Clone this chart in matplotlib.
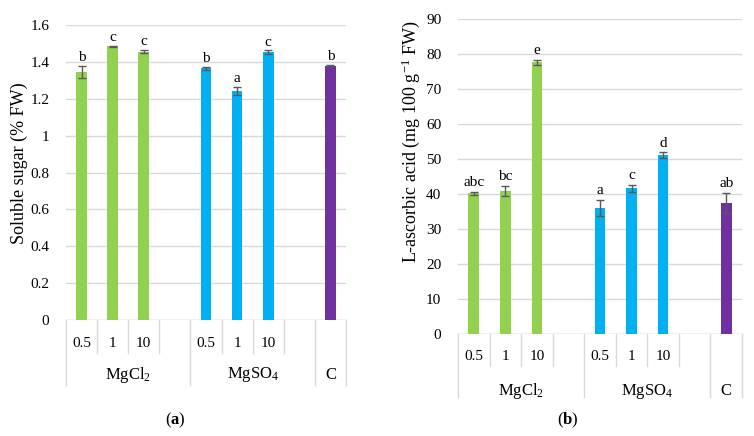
import matplotlib
matplotlib.use("Agg")
import matplotlib.pyplot as plt
from matplotlib.transforms import blended_transform_factory

plt.rcParams["font.family"] = "Liberation Serif"
plt.rcParams["mathtext.fontset"] = "custom"
plt.rcParams["mathtext.rm"] = "Liberation Serif"
plt.rcParams["mathtext.it"] = "Liberation Serif:italic"
plt.rcParams["mathtext.bf"] = "Liberation Serif:bold"

# slots: 0.5 1 10 (MgCl2) | gap | 0.5 1 10 (MgSO4) | gap | C
SUB_LABELS = ["0.5", "1", "10", "", "0.5", "1", "10", "", ""]
GROUPS = ["MgCl$_2$", "MgSO$_4$", "C"]
GROUP_SPAN = [(0, 4), (4, 8), (8, 9)]
BAR_POS = [0, 1, 2, 4, 5, 6, 8]
BAR_COLORS = ["#92D050"] * 3 + ["#00B0F0"] * 3 + ["#7030A0"]

sugar = [1.345, 1.485, 1.455, 1.365, 1.242, 1.452, 1.379]
sugar_err = [0.032, 0.003, 0.008, 0.007, 0.02, 0.01, 0.004]
sugar_let = ["b", "c", "c", "b", "a", "c", "b"]

asc = [40.2, 40.9, 77.6, 35.9, 41.6, 51.1, 37.5]
asc_err = [0.5, 1.5, 0.7, 2.3, 1.0, 0.8, 2.8]
asc_let = ["abc", "bc", "e", "a", "c", "d", "ab"]

W, H = 754, 436
fig = plt.figure(figsize=(W / 100, H / 100), dpi=100)


def px_axes(x0, y0, x1, y1):
    return fig.add_axes([x0 / W, (H - y1) / H, (x1 - x0) / W, (y1 - y0) / H])


def panel(ax, vals, errs, lets, ymax, step, ylabel, off, sub_y, grp_y,
          inner_d, grp_d, lab_xy, tick_fmt):
    ax.bar(BAR_POS, vals, width=0.34, color=BAR_COLORS, zorder=3)
    ax.errorbar(BAR_POS, vals, yerr=errs, fmt="none", ecolor="#595959",
                elinewidth=1, capsize=3, capthick=1, zorder=4)
    for x, v, e, l in zip(BAR_POS, vals, errs, lets):
        ax.text(x, v + e + off, l, ha="center", va="bottom", fontsize=11)
    ax.set_xlim(-0.5, 8.5)
    ax.set_ylim(0, ymax)
    ticks = [i * step for i in range(int(round(ymax / step)) + 1)]
    ax.set_yticks(ticks)
    ax.set_yticklabels([tick_fmt(t) for t in ticks], fontsize=11)
    ax.set_xticks([])
    ax.tick_params(axis="y", length=0, pad=12)
    ax.grid(axis="y", color="#d9d9d9", lw=1, zorder=0)
    ax.set_axisbelow(True)
    for s in ax.spines.values():
        s.set_visible(False)
    ax.axhline(0, color="#d9d9d9", lw=1, zorder=1)
    ax.set_ylabel(ylabel, fontsize=13)
    ax.yaxis.set_label_coords(*lab_xy)

    tr = blended_transform_factory(ax.transData, ax.transAxes)
    for i, lab in enumerate(SUB_LABELS):
        if lab:
            ax.text(i, sub_y, lab, transform=tr, ha="center", va="center",
                    fontsize=11)
    edges = [b for g in GROUP_SPAN for b in g]
    for b in range(10):
        depth = grp_d if b in edges else inner_d
        ax.plot([b - 0.5, b - 0.5], [0, depth], transform=tr, color="#d9d9d9",
                lw=1, clip_on=False)
    for name, (a, b) in zip(GROUPS, GROUP_SPAN):
        ax.text((a + b - 1) / 2, grp_y, name, transform=tr, ha="center",
                va="center", fontsize=12)


ax1 = px_axes(66, 25, 346, 320)
panel(ax1, sugar, sugar_err, sugar_let, 1.6, 0.2, "Soluble sugar (% FW)",
      0.01, -0.078, -0.186, -0.112, -0.22, (-0.135, 0.53),
      lambda t: "0" if t == 0 else f"{t:g}")

ax2 = px_axes(458, 19, 742, 334)
panel(ax2, asc, asc_err, asc_let, 90, 10,
      "L-ascorbic acid (mg 100 g$^{-1}$ FW)",
      0.8, -0.073, -0.181, -0.102, -0.2, (-0.125, 0.61),
      lambda t: f"{t:g}")

fig.text(175 / W, 1 - 420 / H, r"($\mathbf{a}$)", ha="center", va="center",
         fontsize=12)
fig.text(568 / W, 1 - 420 / H, r"($\mathbf{b}$)", ha="center", va="center",
         fontsize=12)

fig.savefig("out.png", dpi=100)
